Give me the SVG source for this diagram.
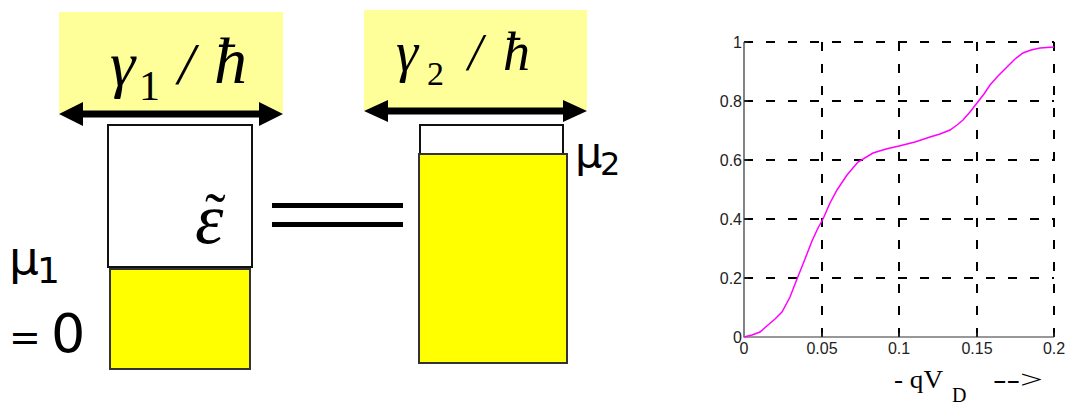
<svg xmlns="http://www.w3.org/2000/svg" width="1067" height="404" viewBox="0 0 1067 404">
<style>
.hl{fill:#FFFF99;stroke:none}
.box{fill:#fff;stroke:#111;stroke-width:2}
.ybox{fill:#FFFF00;stroke:#333;stroke-width:2}
.math{font-family:"Liberation Serif","DejaVu Serif",serif;font-style:italic;fill:#000}
.num{font-family:"Liberation Serif",serif;fill:#000}
.mu{font-family:"DejaVu Sans","Liberation Sans",sans-serif;fill:#000}
.grid{stroke:#000;stroke-width:2;stroke-dasharray:9 13;fill:none}
.axis{stroke:#333;stroke-width:1.2;fill:none}
.tick{font-family:"Liberation Sans",Arial,sans-serif;font-size:16px;fill:#222}
.arrow{fill:#000}
</style>
<rect width="1067" height="404" fill="#fff"/>
<g id="lead1">
<rect class="hl" x="59" y="12" width="224" height="101"/>
<text class="math" x="110" y="85" font-size="64">γ</text>
<text class="num" x="139" y="100" font-size="42">1</text>
<text class="math" x="178" y="84" font-size="60">/</text>
<text class="math" x="214" y="83" font-size="66">ħ</text>
<path class="arrow" d="M59,114 L83,102 L83,110.5 L259,110.5 L259,102 L283,114 L259,126 L259,117.5 L83,117.5 L83,126 Z"/>
</g>
<g id="lead2">
<rect class="hl" x="364" y="10" width="223" height="100"/>
<text class="math" x="396" y="71" font-size="56">γ</text>
<text class="num" x="427" y="85" font-size="34">2</text>
<text class="math" x="468" y="70" font-size="52">/</text>
<text class="math" x="503" y="70" font-size="54">ħ</text>
<path class="arrow" d="M364,111 L388,100 L388,107.5 L563,107.5 L563,100 L587,111 L563,122 L563,114.5 L388,114.5 L388,122 Z"/>
</g>
<g id="contact1">
<rect class="box" x="108" y="125" width="144" height="142"/>
<rect class="ybox" x="110" y="269" width="140" height="100"/>
<text class="math" x="195" y="243" font-size="72">ε<tspan x="205" y="236" font-size="62" font-style="normal">˜</tspan></text>
</g>
<g id="mu1">
<text class="mu" x="9" y="274" font-size="47">μ<tspan x="37" y="283" font-size="36">1</tspan></text>
<text class="mu" y="352"><tspan x="9" y="350" font-size="38">=</tspan><tspan x="51" y="352" font-size="54">0</tspan></text>
</g>
<g id="equals">
<rect x="272" y="203" width="131" height="5" fill="#000"/>
<rect x="272" y="222" width="131" height="5" fill="#000"/>
</g>
<g id="contact2">
<rect class="box" x="420" y="125" width="143" height="30"/>
<rect class="ybox" x="419" y="154" width="148" height="209"/>
<text class="mu" x="575" y="167" font-size="43">μ<tspan x="600" y="175" font-size="32">2</tspan></text>
</g>
<g id="plot">
<g id="grid">
<path class="grid" d="M744,42H1054M744,101H1054M744,160H1054M744,219H1054M744,278H1054"/>
<path class="grid" d="M822,42V337M899,42V337M977,42V337M1054,42V337"/>
</g>
<path class="axis" d="M744,42V337H1054"/>
<path class="axis" d="M744,42h4M744,101h4M744,160h4M744,219h4M744,278h4M822,337v-4M899,337v-4M977,337v-4M1054,337v-4"/>
<g class="tick" text-anchor="end">
<text x="742" y="48">1</text>
<text x="742" y="107">0.8</text>
<text x="742" y="166">0.6</text>
<text x="742" y="225">0.4</text>
<text x="742" y="284">0.2</text>
<text x="742" y="343">0</text>
</g>
<g class="tick" text-anchor="middle">
<text x="744" y="354">0</text>
<text x="822" y="354">0.05</text>
<text x="899" y="354">0.1</text>
<text x="977" y="354">0.15</text>
<text x="1054" y="354">0.2</text>
</g>
<polyline fill="none" stroke="#FF00FF" stroke-width="1.5" points="744,337 752,335 760,332 768,325 775,319 782,312 790,297 797,279 805,259 812,241 818,228 823,219 830,203 837,190 847,175 858,162 873,153 886,149 899,146 915,142 930,137 940,134 950,130 957,125 963,120 970,112 977,103 984,94 990,85 998,76 1007,67 1015,59 1023,53 1031,50 1040,48 1054,47"/>
<text class="num" font-size="26" y="388"><tspan x="894" textLength="49" lengthAdjust="spacingAndGlyphs">- qV</tspan><tspan x="952" y="402" font-size="20">D</tspan><tspan x="993" y="388" textLength="50" lengthAdjust="spacingAndGlyphs">--&gt;</tspan></text>
</g>
</svg>
